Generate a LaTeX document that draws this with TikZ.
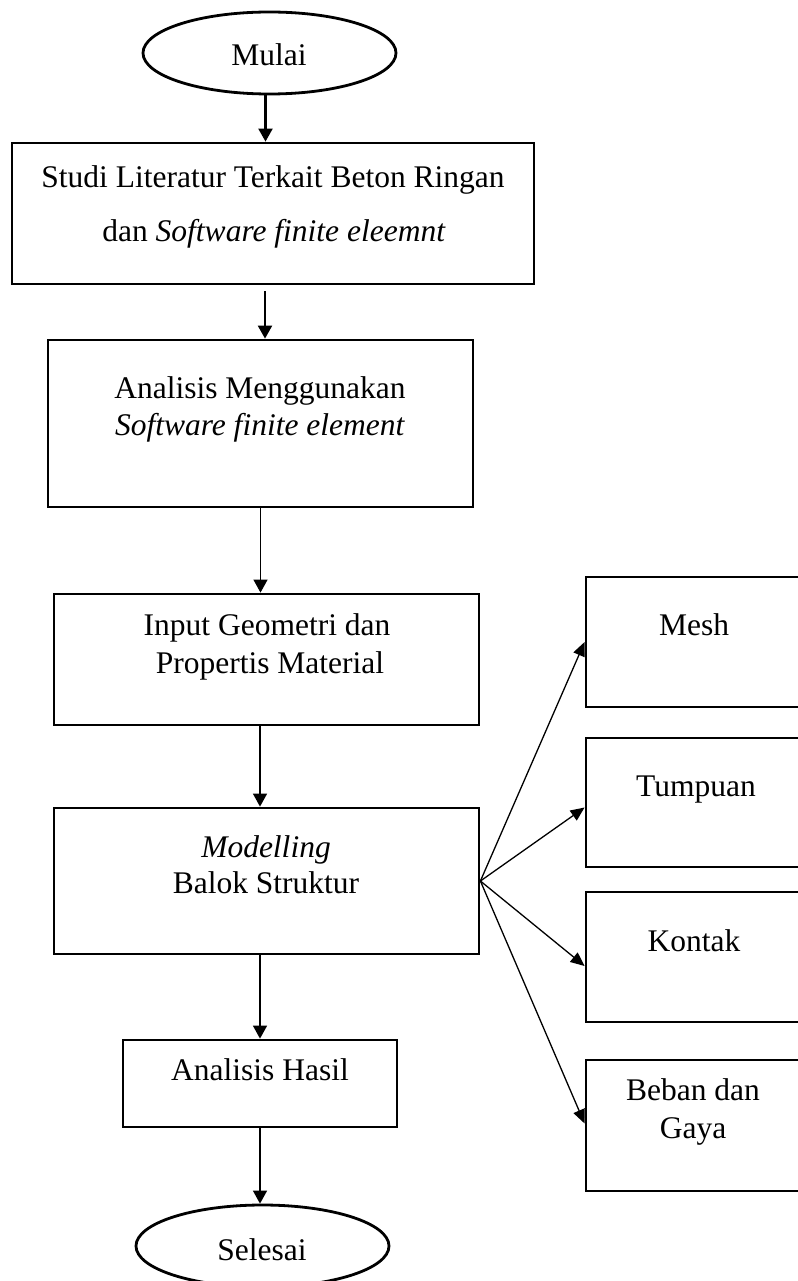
\documentclass[tikz,border=0pt]{standalone}
\usepackage{fontspec}
\setmainfont{Liberation Serif}
\usetikzlibrary{arrows.meta,shapes.geometric}
\begin{document}
\begin{tikzpicture}[x=1pt,y=-1pt,
  box/.style={draw,line width=2.8pt,rectangle,inner sep=0pt},
  oval/.style={draw,line width=2.8pt,ellipse,inner sep=0pt},
  txt/.style={anchor=base,inner sep=0pt,font=\fontsize{31.5}{37}\selectfont},
  thickarr/.style={line width=2.2pt,-{Triangle[length=13pt,width=14pt]}},
  arr/.style={line width=1.4pt,-{Triangle[length=13pt,width=14pt]}},
  fanarr/.style={line width=1.3pt,-{Triangle[length=14pt,width=12pt]}}]
\useasboundingbox (0,0) rectangle (797,1281);
% main column
\node[oval,minimum width=253pt,minimum height=82pt] (mulai) at (269.5,53) {};
\node[box,minimum width=522pt,minimum height=141pt] (b1) at (273,213.5) {};
\node[box,minimum width=425pt,minimum height=167pt] (b2) at (260.5,423.5) {};
\node[box,minimum width=425pt,minimum height=131pt] (b3) at (266.5,659.5) {};
\node[box,minimum width=425pt,minimum height=146pt] (b4) at (266.5,881) {};
\node[box,minimum width=274pt,minimum height=87pt] (b5) at (260,1083.5) {};
\node[oval,minimum width=253pt,minimum height=82pt] (selesai) at (262.5,1246) {};
% side column
\node[box,minimum width=216pt,minimum height=130pt] (mesh) at (694,642) {};
\node[box,minimum width=216pt,minimum height=129pt] (tump) at (694,802.5) {};
\node[box,minimum width=216pt,minimum height=130pt] (kont) at (694,957) {};
\node[box,minimum width=216pt,minimum height=131pt] (beban) at (694,1125.5) {};
% texts
\node[txt] (tmulai) at (269,66) {Mulai};
\node[txt] (t1a) at (273,188) {Studi Literatur Terkait Beton Ringan};
\node[txt] (t1b) at (274,242) {dan \textit{Software finite eleemnt}};
\node[txt] (t2a) at (260,398) {Analisis Menggunakan};
\node[txt] (t2b) at (260,435) {\textit{Software finite element}};
\node[txt] (t3a) at (267,635) {Input Geometri dan};
\node[txt] (t3b) at (270,673) {Propertis Material};
\node[txt] (t4a) at (266,857) {\textit{Modelling}};
\node[txt] (t4b) at (266,893) {Balok Struktur};
\node[txt] (t5) at (260,1080) {Analisis Hasil};
\node[txt] (tsel) at (262,1260) {Selesai};
\node[txt] (tmesh) at (694,635) {Mesh};
\node[txt] (ttump) at (696,796) {Tumpuan};
\node[txt] (tkont) at (694,951) {Kontak};
\node[txt] (tbeb1) at (693,1100) {Beban dan};
\node[txt] (tbeb2) at (693,1138) {Gaya};
% connectors
\draw[thickarr] ([xshift=-4pt]mulai.south) -- ([xshift=-4pt]mulai.south |- b1.north);
\draw[thickarr,shorten <=6pt] ([xshift=-8pt]b1.south) -- ([xshift=-8pt]b1.south |- b2.north);
\draw[arr] (b2.south) -- (b2.south |- b3.north);
\draw[arr] (b3.south -| b5.north) -- (b4.north -| b5.north);
\draw[arr] (b4.south -| b5.north) -- (b5.north);
\draw[arr] (b5.south) -- (b5.south |- selesai.north);
\draw[fanarr] (b4.east) -- (mesh.west);
\draw[fanarr] (b4.east) -- ([yshift=-5pt]tump.west);
\draw[fanarr] (b4.east) -- ([yshift=-9pt]kont.west);
\draw[fanarr] (b4.east) -- ([yshift=2pt]beban.west);
\end{tikzpicture}
\end{document}
